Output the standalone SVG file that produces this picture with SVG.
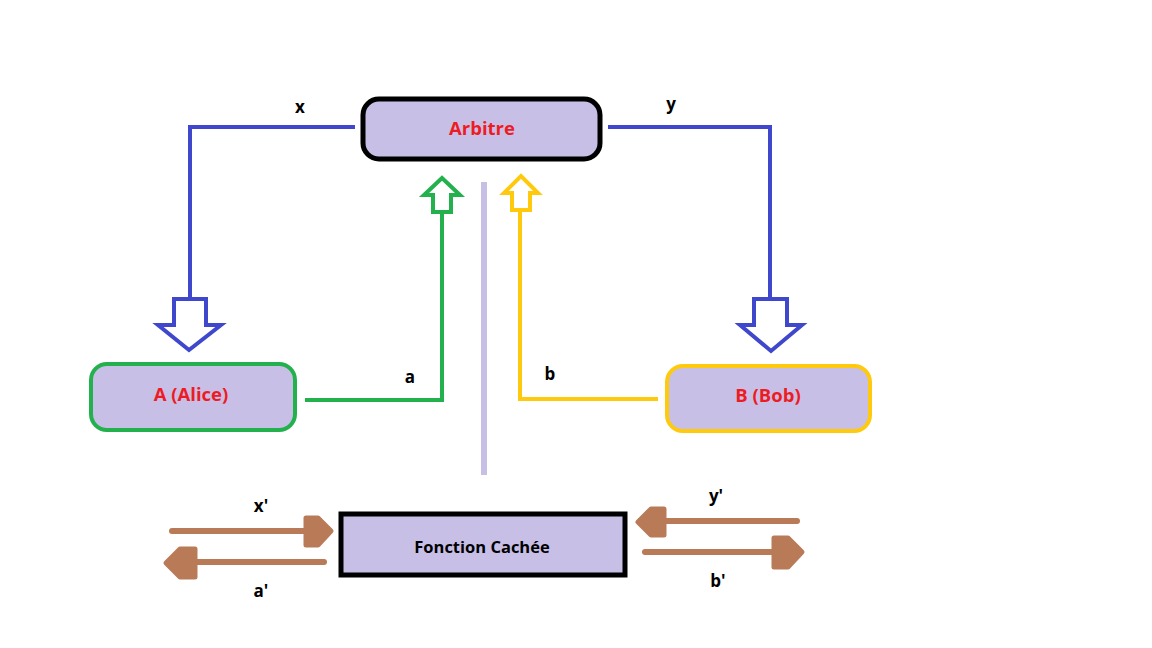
<svg xmlns="http://www.w3.org/2000/svg" width="1152" height="648" viewBox="0 0 1152 648">
<style>
.box{fill:#c8bfe7;}
.lbl{font-family:"Open Sans","Liberation Sans",sans-serif;font-weight:bold;font-size:17px;text-anchor:middle;}
.red{fill:#ed1c24;font-size:18.5px;}
.blk{fill:#000;}
.hollow{fill:#fff;stroke-width:4;stroke-linejoin:miter;}
.brown{fill:#b97a57;stroke:#b97a57;stroke-width:5;stroke-linejoin:round;}
.bline{stroke:#b97a57;stroke-width:6;stroke-linecap:round;fill:none;}
</style>
<rect width="1152" height="648" fill="#fff"/>
<g id="connectors">
  <polyline points="355,127 190,127 190,299" fill="none" stroke="#3f48cc" stroke-width="4"/>
  <polygon class="hollow" stroke="#3f48cc" points="174,299 206,299 206,325 221,325 189,350 158,325 174,325"/>
  <polyline points="608,127 770,127 770,299" fill="none" stroke="#3f48cc" stroke-width="4"/>
  <polygon class="hollow" stroke="#3f48cc" points="754,299 787,299 787,325 802,325 771,351 740,325 754,325"/>
  <polyline points="305,400 442,400 442,213" fill="none" stroke="#22b14c" stroke-width="4"/>
  <polygon class="hollow" stroke="#22b14c" points="433,212 451,212 451,195 460,195 442,178 424,195 433,195"/>
  <polyline points="658,399 520,399 520,211" fill="none" stroke="#ffc90e" stroke-width="4"/>
  <polygon class="hollow" stroke="#ffc90e" points="512,210 530,210 530,193 538,193 521,176 504,193 512,193"/>
  <line x1="484" y1="182" x2="484" y2="475" stroke="#c8bfe7" stroke-width="6"/>
  <line class="bline" x1="172" y1="531" x2="308" y2="531"/>
  <polygon class="brown" points="306,518 318,518 331,531 318,545 306,545"/>
  <line class="bline" x1="324" y1="562" x2="192" y2="562"/>
  <polygon class="brown" points="195,549 180,549 166,563 180,577 195,577"/>
  <line class="bline" x1="797" y1="521" x2="662" y2="521"/>
  <polygon class="brown" points="664,509 651,509 638,522 651,535 664,535"/>
  <line class="bline" x1="645" y1="552" x2="776" y2="552"/>
  <polygon class="brown" points="774,538 788,538 802,552 788,567 774,567"/>
  <text class="lbl blk" x="300" y="113">x</text>
  <text class="lbl blk" x="671" y="110">y</text>
  <text class="lbl blk" x="410" y="383">a</text>
  <text class="lbl blk" x="550" y="380">b</text>
  <text class="lbl blk" x="261" y="512">x'</text>
  <text class="lbl blk" x="261" y="597">a'</text>
  <text class="lbl blk" x="716" y="502">y'</text>
  <text class="lbl blk" x="718" y="587">b'</text>
</g>
<g id="arbitre">
  <rect class="box" x="363" y="99" width="237" height="60" rx="16" stroke="#000" stroke-width="5"/>
  <text class="lbl red" x="482" y="135">Arbitre</text>
</g>
<g id="alice">
  <rect class="box" x="91" y="364" width="204" height="66" rx="16" stroke="#22b14c" stroke-width="4"/>
  <text class="lbl red" x="191" y="401">A (Alice)</text>
</g>
<g id="bob">
  <rect class="box" x="667" y="366" width="203" height="65" rx="16" stroke="#ffc90e" stroke-width="4"/>
  <text class="lbl red" x="768" y="402">B (Bob)</text>
</g>
<g id="fonction">
  <rect class="box" x="341" y="514" width="284" height="61" stroke="#000" stroke-width="5"/>
  <text class="lbl blk" x="482" y="553" style="font-size:16.5px">Fonction Cachée</text>
</g>
</svg>
